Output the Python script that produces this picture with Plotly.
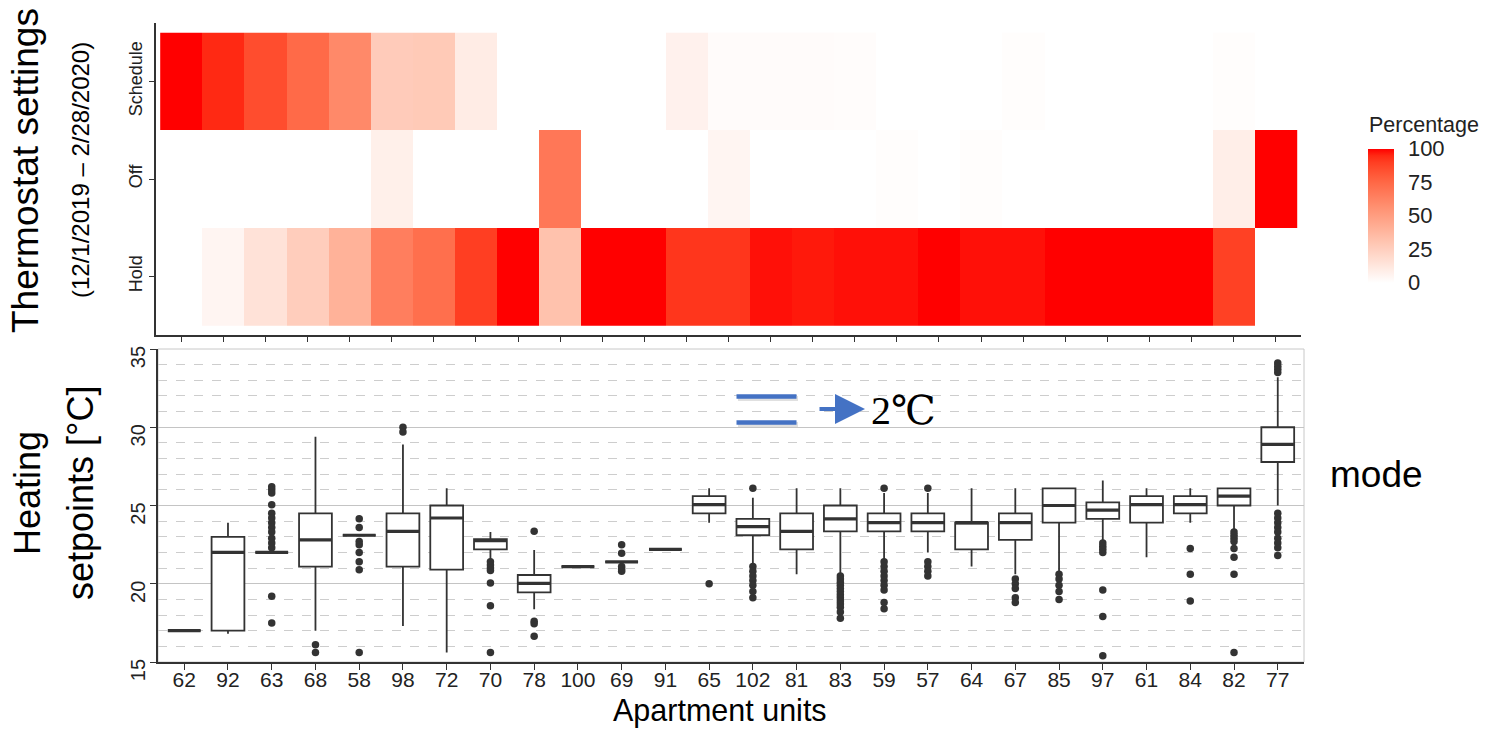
import numpy as np
import plotly.graph_objects as go

# ---------------- data ----------------
box_units = ["62", "92", "63", "68", "58", "98", "72", "70", "78", "100", "69", "91", "65",
             "102", "81", "83", "59", "57", "64", "67", "85", "97", "61", "84", "82", "77"]
# heatmap has one extra (unlabelled) unit at the right that is always "Off"
heat_units = box_units + ["off-only unit"]
settings = ["Hold", "Off", "Schedule"]

schedule_pct = [100, 95, 85, 74, 60, 27, 28, 10, 0, 0, 0, 0, 7, 2, 2, 2, 1.5, 0, 0, 0, 1, 0, 0, 0, 0, 1, 0]
off_pct      = [0, 0, 0, 0, 0, 8, 0, 0, 0, 68, 0, 0, 0, 5, 0, 0, 0, 1, 0, 1, 0, 0, 0, 0, 0, 9, 100]
hold_pct     = [0, 5, 15, 26, 40, 65, 72, 90, 100, 32, 100, 100, 92, 92, 98, 97, 98, 98, 100, 98, 98,
                100, 100, 100, 100, 89, 0]
pct_ticks = [0, 25, 50, 75, 100]

q1      = [17, 17.0, 22, 21.1, 23.1, 21.1, 20.9, 22.2, 19.45, 21.1, 21.4, 22.2, 24.5,
           23.1, 22.2, 23.35, 23.35, 23.35, 22.2, 22.8, 23.9, 24.15, 23.9, 24.5, 25.0, 27.78]
median  = [17, 22.0, 22, 22.8, 23.1, 23.35, 24.2, 22.75, 20.03, 21.1, 21.4, 22.2, 25.05,
           23.65, 23.35, 24.15, 23.9, 23.9, 23.9, 23.9, 25.0, 24.7, 25.05, 25.05, 25.6, 28.9]
q3      = [17, 23.0, 22, 24.5, 23.1, 24.5, 25.0, 22.85, 20.56, 21.1, 21.4, 22.2, 25.6,
           24.15, 24.5, 25.0, 24.5, 24.5, 23.9, 24.5, 26.1, 25.2, 25.6, 25.6, 26.1, 30.0]
lo_whisk = [17, 16.8, 22, 17.0, 23.1, 17.3, 15.6, 21.5, 18.37, 21.1, 21.4, 22.2, 23.9,
            21.3, 20.6, 20.6, 21.5, 22.0, 21.1, 20.6, 20.8, 22.7, 21.7, 23.9, 23.45, 25.0]
hi_whisk = [17, 23.9, 22, 29.4, 23.1, 28.9, 26.1, 23.3, 22.16, 21.1, 21.4, 22.2, 26.1,
            25.5, 26.1, 26.1, 25.8, 25.8, 26.1, 26.1, 26.1, 26.6, 26.1, 26.1, 26.1, 33.2]

outliers = {
    "63": [26.2, 26.0, 25.8, 25.05, 24.5, 24.2, 23.9, 23.6, 23.3, 22.9, 22.6, 22.3, 19.2, 17.5],
    "68": [16.1, 15.6],
    "58": [24.15, 23.6, 22.7, 22.5, 22.0, 21.4, 20.9, 15.6],
    "98": [30.0, 29.7],
    "70": [21.4, 21.2, 21.0, 20.85, 20.05, 18.6, 15.6],
    "78": [23.35, 17.6, 17.45, 16.65],
    "69": [22.5, 21.95, 21.1, 20.95, 20.8],
    "65": [20.0],
    "102": [26.1, 21.1, 20.8, 20.5, 20.2, 19.9, 19.5, 19.1],
    "83": [20.5, 20.3, 20.1, 19.9, 19.7, 19.5, 19.3, 19.1, 18.9, 18.7, 18.5, 18.2, 17.8],
    "59": [26.1, 21.4, 21.1, 20.8, 20.5, 20.2, 19.9, 19.6, 18.8, 18.4],
    "57": [26.1, 21.4, 21.1, 20.8, 20.5],
    "67": [20.3, 20.0, 19.7, 19.1, 18.8],
    "85": [20.6, 20.3, 19.9, 19.5, 19.0],
    "97": [22.6, 22.4, 22.2, 22.0, 19.6, 17.9, 15.4],
    "84": [22.25, 20.6, 18.9],
    "82": [23.3, 23.1, 22.9, 22.7, 22.25, 21.7, 20.6, 15.6],
    "77": [34.1, 33.9, 33.7, 33.5, 24.5, 24.2, 23.9, 23.6, 23.3, 22.9, 22.6, 22.3, 21.8],
}

# ---------------- colour scale (white -> red, interpolated in CIELAB like ggplot) ----------------
M = np.array([[0.4124, 0.3576, 0.1805], [0.2126, 0.7152, 0.0722], [0.0193, 0.1192, 0.9505]])
WREF = M @ np.ones(3)


def rgb2lab(rgb):
    c = np.asarray(rgb, float) / 255
    lin = np.where(c <= 0.04045, c / 12.92, ((c + 0.055) / 1.055) ** 2.4)
    t = (M @ lin) / WREF
    f = np.where(t > 0.008856, np.cbrt(t), 7.787 * t + 16 / 116)
    return np.array([116 * f[1] - 16, 500 * (f[0] - f[1]), 200 * (f[1] - f[2])])


def lab2rgb(lab):
    L, a, b = lab
    fy = (L + 16) / 116
    f = np.array([fy + a / 500, fy, fy - b / 200])
    t = np.where(f ** 3 > 0.008856, f ** 3, (f - 16 / 116) / 7.787)
    lin = np.clip(np.linalg.solve(M, t * WREF), 0, 1)
    s = np.where(lin <= 0.0031308, 12.92 * lin, 1.055 * lin ** (1 / 2.4) - 0.055)
    r, g, bb = np.round(np.clip(s, 0, 1) * 255).astype(int)
    return f"rgb({r},{g},{bb})"


lw, lr = rgb2lab([255, 255, 255]), rgb2lab([255, 0, 0])
colorscale = [[k / 20, lab2rgb(lw + (lr - lw) * k / 20)] for k in range(21)]

# ---------------- layout helpers (pixel geometry) ----------------
W, H = 1491, 729


def px(x):
    return x / W


def py(y):
    return 1 - y / H


FONT = "Liberation Sans, Arial, sans-serif"
DARK = "#222222"
BOXC = "#333333"

fig = go.Figure()

fig.add_trace(go.Heatmap(
    z=[hold_pct, off_pct, schedule_pct], x=heat_units, y=settings,
    zmin=0, zmax=100, colorscale=colorscale, xaxis="x", yaxis="y",
    hoverongaps=False,
    colorbar=dict(
        x=px(1368), xanchor="left", xpad=0,
        y=py(215.5), yanchor="middle", ypad=0,
        len=134, lenmode="pixels", thickness=26, thicknessmode="pixels",
        outlinewidth=0, tickvals=pct_ticks,
        ticks="outside", ticklen=10, tickcolor="rgba(255,255,255,0)", tickwidth=1,
        tickfont=dict(size=22, color=DARK, family=FONT),
    ),
))

fig.add_trace(go.Box(
    x=box_units, q1=q1, median=median, q3=q3, lowerfence=lo_whisk, upperfence=hi_whisk,
    xaxis="x2", yaxis="y2", boxpoints=False, width=0.75, whiskerwidth=0,
    fillcolor="white", line=dict(color=BOXC, width=1.8), showlegend=False,
))

# thick median bars (ggplot fatten)
fig.add_trace(go.Scatter(
    x=box_units, y=median, mode="markers", xaxis="x2", yaxis="y2", showlegend=False,
    marker=dict(symbol="line-ew", size=23.4, line=dict(color=BOXC, width=3.2)),
    hoverinfo="skip",
))

ox, oy = [], []
for u in box_units:
    for v in outliers.get(u, []):
        ox.append(u)
        oy.append(v)
fig.add_trace(go.Scatter(
    x=ox, y=oy, mode="markers", xaxis="x2", yaxis="y2", showlegend=False,
    marker=dict(color=BOXC, size=7.5, line=dict(width=0)),
))

ax_common = dict(automargin=False, fixedrange=True, zeroline=False,
                 showline=True, linecolor="#333", linewidth=2,
                 ticks="outside", tickcolor="#333", tickwidth=1.3)

fig.update_layout(
    width=W, height=H, margin=dict(l=0, r=0, t=0, b=0, autoexpand=False),
    paper_bgcolor="white", plot_bgcolor="white",
    font=dict(family=FONT, color=DARK),
    showlegend=False,
    xaxis=dict(domain=[px(156), px(1301)], type="category", range=[-0.6, 26.6],
               showticklabels=False, ticklen=5, showgrid=False, anchor="y", **ax_common),
    yaxis=dict(domain=[py(335), py(23)], type="category", range=[-0.6, 2.6],
               tickangle=-90, tickfont=dict(size=18, color=DARK), ticklen=5,
               showgrid=False, anchor="x", **ax_common),
    xaxis2=dict(domain=[px(158), px(1304)], type="category", range=[-0.6, 25.6],
                tickfont=dict(size=21, color=DARK), ticklen=6, ticklabelstandoff=-8,
                showgrid=False, anchor="y2", **ax_common),
    yaxis2=dict(domain=[py(662), py(349)], range=[15, 35], dtick=5, tick0=15,
                tickangle=-90, tickfont=dict(size=20, color=DARK), ticklabelshift=11,
                ticklabelstandoff=-3, ticklen=6,
                showgrid=True, gridcolor="#C4C4C4", gridwidth=1,
                minor=dict(dtick=1, showgrid=True, gridcolor="#CDCDCD", griddash="dash",
                           gridwidth=1, ticks=""),
                anchor="x2", **ax_common),
)

shapes = [
    # light panel border of the box plot
    dict(type="rect", xref="x2 domain", yref="y2 domain", x0=0, x1=1, y0=0, y1=1,
         line=dict(color="#C8C8C8", width=1), layer="below"),
]
# "=" symbol (blue bars) with a soft shadow
for yy in (396.5, 422.5):
    shapes.append(dict(type="line", xref="paper", yref="paper", x0=px(738), x1=px(798),
                       y0=py(yy + 2), y1=py(yy + 2), line=dict(color="rgba(0,0,0,0.12)", width=5)))
    shapes.append(dict(type="line", xref="paper", yref="paper", x0=px(736.5), x1=px(796.5),
                       y0=py(yy), y1=py(yy), line=dict(color="#4472C4", width=4.5)))
fig.update_layout(shapes=shapes)

ann = [
    dict(text="Thermostat settings", x=px(26), y=py(171), textangle=-90,
         font=dict(size=37, color="black")),
    dict(text="(12/1/2019 – 2/28/2020)", x=px(81), y=py(170), textangle=-90,
         font=dict(size=24, color="black")),
    dict(text="Heating", x=px(27), y=py(493), textangle=-90,
         font=dict(size=36, color="black")),
    dict(text="setpoints [°C]", x=px(80), y=py(493), textangle=-90,
         font=dict(size=36, color="black")),
    dict(text="mode", x=px(1376), y=py(474),
         font=dict(size=37, color="black")),
    dict(text="2℃", x=px(903), y=py(410),
         font=dict(size=40, color="black", family="Liberation Serif, DejaVu Serif, serif")),
]
for a in ann:
    a.update(xref="paper", yref="paper", showarrow=False, xanchor="center", yanchor="middle")
# x-axis title, kept inside the bottom edge
ann.append(dict(text="Apartment units", xref="paper", yref="paper", x=px(720), y=0,
                xanchor="center", yanchor="bottom", showarrow=False, borderpad=0,
                font=dict(size=30.5, color="black")))
# colour-bar title
ann.append(dict(text="Percentage", xref="paper", yref="paper", x=px(1367), y=py(125),
                xanchor="left", yanchor="middle", showarrow=False,
                font=dict(size=21.5, color=DARK)))
# blue arrow
ann.append(dict(text="", xref="paper", yref="paper", x=px(865), y=py(409), ax=-47, ay=0,
                showarrow=True, arrowhead=2, arrowsize=1.5, arrowwidth=4, arrowcolor="#4472C4",
                standoff=0, startstandoff=0))
fig.update_layout(annotations=ann)

fig.write_html("out.html", config={"displayModeBar": False},
               post_script="document.body.style.margin='0px';document.body.style.overflow='hidden';")
